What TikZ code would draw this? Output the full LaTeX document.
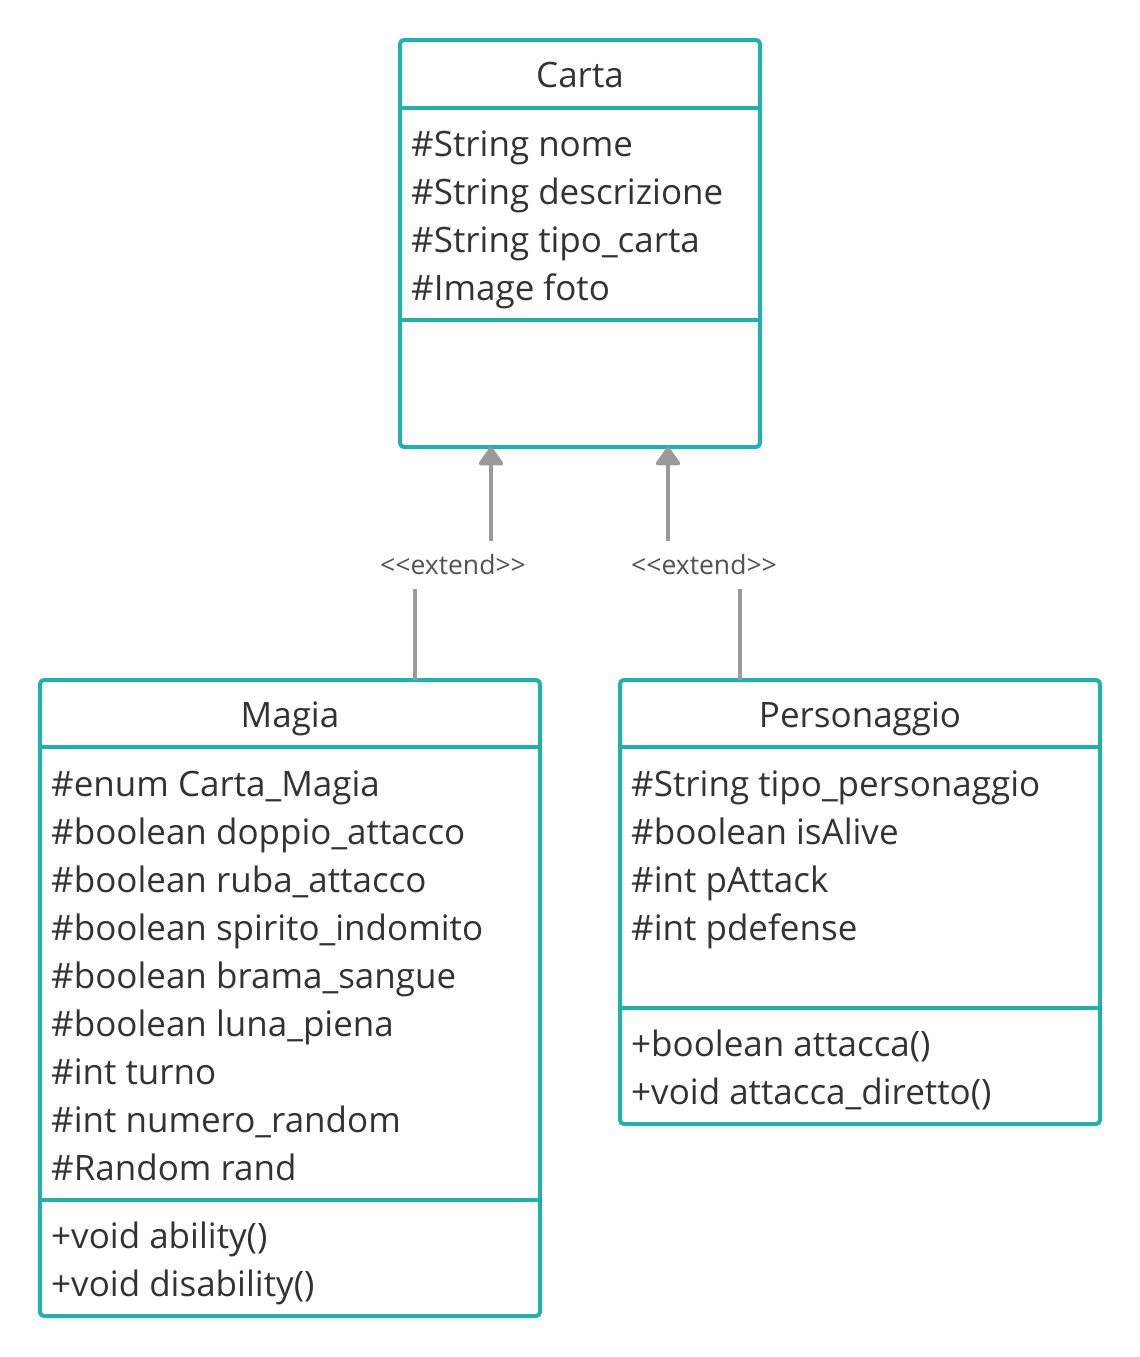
\documentclass[tikz,border=0pt]{standalone}
\usepackage{fontspec}
\setmainfont{Open Sans}
\usetikzlibrary{arrows.meta}
\definecolor{umlteal}{HTML}{22B0AA}
\definecolor{umltext}{HTML}{333333}
\definecolor{umlgray}{HTML}{9A9A9A}
\tikzset{
	classbox/.style={draw=umlteal, line width=4pt, rounded corners=4pt, minimum width=#1, inner sep=0pt},
	sepline/.style={draw=umlteal, line width=4pt},
	member/.style={anchor=base west, inner sep=0pt, text=umltext, font=\fontsize{35}{44}\selectfont},
	title/.style={anchor=base, inner sep=0pt, text=umltext, font=\fontsize{35}{44}\selectfont},
	gen/.style={draw=umlgray, line width=4pt, -{Triangle[width=27pt,length=20pt,round]}},
	stereo/.style={fill=white, text=umltext!85, inner xsep=2pt, minimum height=48pt, font=\fontsize{26.5}{30}\selectfont}
}
\begin{document}
\begin{tikzpicture}[x=1pt, y=-1pt, line join=round, line cap=butt]
	\useasboundingbox (0,0) rectangle (1140,1357);
	% boxes
	\node[classbox=360pt, minimum height=407pt] (carta) at (580,243.5) {};
	\node[classbox=500pt, minimum height=636pt] (magia) at (290,998) {};
	\node[classbox=480pt, minimum height=444pt] (pers) at (860,902) {};
	\draw[sepline] (carta.west |- 0,108) -- (carta.east |- 0,108);
	\draw[sepline] (carta.west |- 0,320) -- (carta.east |- 0,320);
	\draw[sepline] (magia.west |- 0,747) -- (magia.east |- 0,747);
	\draw[sepline] (magia.west |- 0,1200) -- (magia.east |- 0,1200);
	\draw[sepline] (pers.west |- 0,747) -- (pers.east |- 0,747);
	\draw[sepline] (pers.west |- 0,1008) -- (pers.east |- 0,1008);
	% titles
	\node[title] (cartaname) at (580,87) {Carta};
	\node[title] (magianame) at (290,727) {Magia};
	\node[title] (persname) at (860,727) {Personaggio};
	% members
	\foreach \t [count=\i] in {\#String nome,\#String descrizione,\#String tipo\_carta,\#Image foto}
		\node[member] (ca\i) at (411,{108+48*\i}) {\t};
	\foreach \t [count=\i] in {\#enum Carta\_Magia,\#boolean doppio\_attacco,\#boolean ruba\_attacco,\#boolean spirito\_indomito,\#boolean brama\_sangue,\#boolean luna\_piena,\#int turno,\#int numero\_random,\#Random rand}
		\node[member] (ma\i) at (51,{748+48*\i}) {\t};
	\foreach \t [count=\i] in {+void ability(),+void disability()}
		\node[member] (mm\i) at (51,{1200+48*\i}) {\t};
	\foreach \t [count=\i] in {\#String tipo\_personaggio,\#boolean isAlive,\#int pAttack,\#int pdefense}
		\node[member] (pa\i) at (631,{748+48*\i}) {\t};
	\foreach \t [count=\i] in {+boolean attacca(),+void attacca\_diretto()}
		\node[member] (pm\i) at (631,{1008+48*\i}) {\t};
	% generalisations
	\coordinate (magiatop) at (415,680);
	\coordinate (perstop) at (740,680);
	\coordinate (cartabot1) at (491,447);
	\coordinate (cartabot2) at (668,447);
	\draw[gen] (magiatop) |- (453,565) node[stereo] (ext1) {{<}{<}extend{>}{>}} -| (cartabot1);
	\draw[gen] (perstop) |- (704,565) node[stereo] (ext2) {{<}{<}extend{>}{>}} -| (cartabot2);
\end{tikzpicture}
\end{document}
